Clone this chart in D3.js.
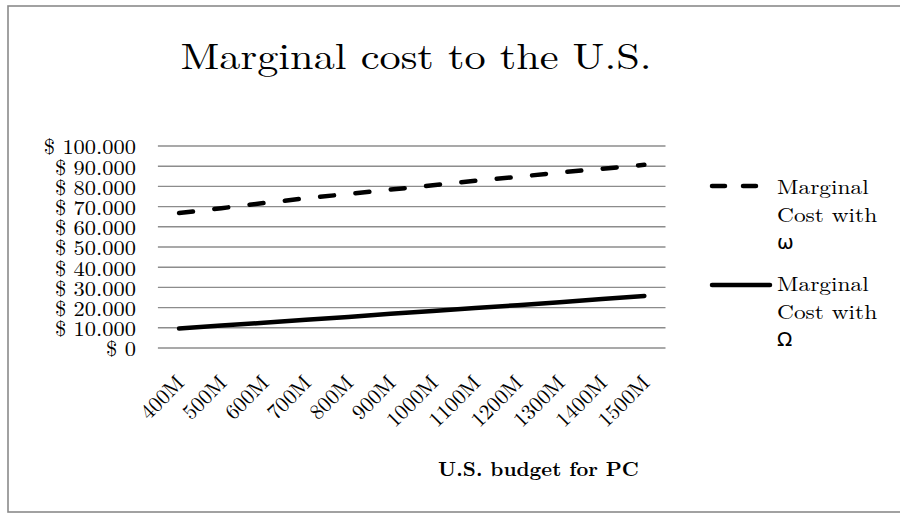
<!DOCTYPE html>
<html>
<head>
<meta charset="utf-8">
<script src="https://cdn.jsdelivr.net/npm/d3@7"></script>
<style>
  html, body { margin: 0; padding: 0; background: #fff; }
  svg { display: block; }
  text { font-family: "Latin Modern Roman", "CMU Serif", "DejaVu Serif", serif; fill: #000; }
</style>
</head>
<body>
<svg id="chart" width="900" height="513"></svg>
<script>
// ---- data ----
const categories = ["400M","500M","600M","700M","800M","900M","1000M","1100M","1200M","1300M","1400M","1500M"];
const costSmallOmega = [66800, 69200, 71800, 74100, 76300, 78400, 80600, 82800, 84700, 86900, 88700, 90700];
const costBigOmega   = [9600, 11100, 12500, 14000, 15400, 16900, 18300, 19800, 21200, 22700, 24200, 25800];
const yTicks = [0, 10000, 20000, 30000, 40000, 50000, 60000, 70000, 80000, 90000, 100000];
const seriesNames = ["Marginal|Cost with|ω", "Marginal|Cost with|Ω"];
const titleText = "Marginal cost to the U.S.";
const xTitleText = "U.S. budget for PC";

// ---- layout ----
const svg = d3.select("#chart");
const plot = { left: 157.9, right: 665.5, top: 146, bottom: 348 };

const x = d3.scalePoint().domain(categories).range([plot.left, plot.right]).padding(0.5);
const y = d3.scaleLinear().domain([0, 100000]).range([plot.bottom, plot.top]);

const locale = d3.formatLocale({ decimal: ",", thousands: ".", grouping: [3], currency: ["$ ", ""] });
const fmt = locale.format("$,.0f");

// outer border
svg.append("rect").attr("x", 8).attr("y", 6).attr("width", 920).attr("height", 506)
  .attr("fill", "none").attr("stroke", "#8a8a8a").attr("stroke-width", 1.6);

// title (horizontally widened like the reference)
svg.append("g").attr("transform", "translate(416,69) scale(1.177,1)")
  .append("text").attr("x", 0).attr("y", 0).attr("text-anchor", "middle")
  .style("font-size", "36px").text(titleText);

// gridlines
svg.append("g").selectAll("line").data(yTicks).join("line")
  .attr("x1", plot.left).attr("x2", plot.right)
  .attr("y1", d => y(d)).attr("y2", d => y(d))
  .attr("stroke", "#8c8c8c").attr("stroke-width", 1.4);

// y axis labels
const yAxis = d3.axisLeft(y).tickValues(yTicks).tickFormat(fmt).tickSize(0).tickPadding(0);
const gy = svg.append("g").attr("transform", "translate(136,0)").call(yAxis);
gy.select(".domain").remove();
gy.selectAll(".tick text").style("font-size", "21px").style("font-family", null).attr("fill", "#000")
  .attr("x", 0).attr("dy", "0.38em").attr("transform", "scale(1.07,1)");

// x axis labels
const xAxis = d3.axisBottom(x).tickSize(0).tickPadding(0);
const gx = svg.append("g").attr("transform", `translate(0,${plot.bottom})`).call(xAxis);
gx.select(".domain").remove();
gx.selectAll("text").style("font-size", "21.5px").style("font-family", null).attr("fill", "#000")
  .attr("text-anchor", "end").attr("y", 0).attr("dy", 0)
  .attr("transform", "translate(6,36) rotate(-45)");

// x title
svg.append("text").attr("x", 538.5).attr("y", 476).attr("text-anchor", "middle")
  .style("font-size", "20.5px").style("font-weight", "bold").text(xTitleText);

// lines
const line = d3.line().x((d, i) => x(categories[i])).y(d => y(d));
svg.append("path").datum(costSmallOmega).attr("d", line)
  .attr("fill", "none").attr("stroke", "#000").attr("stroke-width", 4.5)
  .attr("stroke-dasharray", "14,21.5").attr("stroke-linecap", "round");
svg.append("path").datum(costBigOmega).attr("d", line)
  .attr("fill", "none").attr("stroke", "#000").attr("stroke-width", 4.5)
  .attr("stroke-linecap", "round");

// legend
const legend = [
  { name: seriesNames[0], y: 186, dash: "13,18", x2: 756, textY: 194 },
  { name: seriesNames[1], y: 285, dash: null, x2: 770, textY: 291 }
];
legend.forEach(l => {
  const ln = svg.append("line").attr("x1", 712).attr("x2", l.x2).attr("y1", l.y).attr("y2", l.y)
    .attr("stroke", "#000").attr("stroke-width", 4.5).attr("stroke-linecap", "round");
  if (l.dash) ln.attr("stroke-dasharray", l.dash);
  const parts = l.name.split("|");
  parts.forEach((p, i) => {
    const g = svg.append("g").attr("transform", `translate(777,${l.textY + i * 27.5}) scale(${i === 2 ? 1 : 1.17},1)`);
    const t = g.append("text").attr("x", 0).attr("y", 0).style("font-size", "20px").text(p);
    if (i === 2) t.style("font-family", "'DejaVu Sans', sans-serif");
  });
});
</script>
</body>
</html>
